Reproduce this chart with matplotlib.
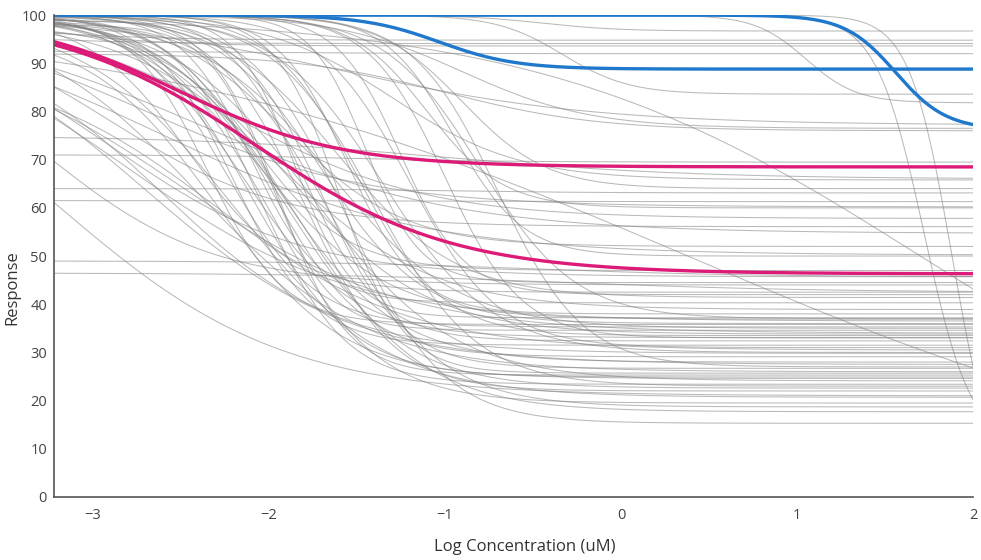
import numpy as np
import matplotlib
matplotlib.use("Agg")
from matplotlib import pyplot as plt

plt.rcParams['font.family'] = ['Open Sans', 'DejaVu Sans']

# Fitted 4-parameter logistic curves:
# each entry is (top, bottom, log EC50, hill slope)

# flat / nearly flat responders
flat_curves = [
    (100, 96.7, -0.45, 2.0),
    (99, 94.8, -3.5, 1.0),
    (98, 94.1, -3.8, 1.0),
    (100, 93.6, -3.3, 1.2),
    (92.5, 92.0, -2.0, 1.0),
    (75, 66.0, -1.0, 0.6),
    (71, 69.5, -1.5, 1.0),
    (64, 63.1, -1.0, 1.0),
    (61.5, 61.3, -1.0, 1.0),
    (49, 45.7, -0.5, 0.7),
    (46.5, 42.5, -0.3, 0.6),
]

# main bundle, EC50 around -2
bundle_curves = [
    (100, 15.3, -1.55, 1.6),
    (100, 17.7, -1.85, 1.2),
    (99, 18.7, -1.65, 1.4),
    (100, 19.5, -2.0, 1.4),
    (100, 20.7, -2.2, 1.0),
    (100, 21.0, -3.2, 0.68),
    (100, 22.0, -1.8, 1.7),
    (98, 22.6, -1.9, 1.3),
    (100, 23.4, -2.05, 1.8),
    (100, 24.1, -1.75, 1.1),
    (97, 24.6, -2.3, 1.2),
    (100, 24.9, -2.1, 1.5),
    (100, 25.3, -1.95, 2.2),
    (100, 25.7, -1.6, 2.4),
    (100, 26.0, -2.4, 0.9),
    (99, 26.7, -1.7, 1.9),
    (100, 28.0, -1.95, 1.3),
    (100, 29.1, -2.0, 1.6),
    (96, 29.8, -2.6, 0.9),
    (100, 31.5, -2.2, 1.9),
    (100, 32.4, -1.8, 2.0),
    (100, 33.1, -2.15, 1.4),
    (100, 33.5, -1.5, 1.8),
    (100, 33.8, -1.9, 1.1),
    (98, 34.6, -2.0, 2.5),
    (99, 35.0, -1.65, 1.2),
    (100, 35.3, -2.25, 1.7),
    (100, 35.8, -2.35, 2.0),
    (100, 36.0, -1.7, 1.5),
    (100, 36.9, -2.05, 1.2),
    (100, 37.2, -1.85, 2.6),
    (99, 38.9, -1.95, 1.0),
    (100, 40.3, -2.1, 2.2),
    (100, 41.4, -1.6, 1.3),
    (100, 42.5, -2.45, 1.5),
    (100, 47.0, -2.1, 1.6),
    (100, 52.0, -1.9, 1.3),
]

# shallow curves that already sit low at the left edge
shallow_curves = [
    (100, 45.7, -2.9, 0.8),
    (100, 36.5, -2.8, 0.7),
    (100, 27.5, -2.7, 0.75),
    (95, 34.0, -2.5, 0.7),
    (100, 50.2, -2.6, 0.6),
    (100, 44.0, -3.3, 0.9),
    (90, 30.5, -2.3, 0.8),
    (100, 56.1, -2.9, 0.9),
    (100, 60.2, -2.7, 0.7),
    (100, 54.7, -2.4, 0.6),
    (100, 57.8, -2.2, 0.8),
]

# curves with EC50 in the middle of the range
mid_curves = [
    (100, 65.8, -1.3, 1.2),
    (100, 64.0, -0.9, 1.8),
    (100, 60.0, -1.1, 2.0),
    (100, 50.0, -0.95, 2.2),
    (100, 44.5, -1.45, 2.8),
    (100, 42.0, -1.25, 2.4),
    (100, 38.0, -1.55, 2.2),
    (100, 37.0, -0.8, 1.6),
    (100, 33.0, -1.0, 2.0),
    (100, 31.0, -1.2, 1.7),
    (100, 30.0, -1.35, 1.4),
    (100, 27.0, -0.7, 1.8),
    (100, 23.0, -1.4, 1.5),
    (100, 77.2, -1.6, 0.6),
    (100, 76.5, -0.9, 1.2),
    (92, 76.0, -1.0, 1.0),
]

# late / odd curves on the right
late_curves = [
    (100, 10.0, 1.72, 3.2),
    (100, 0.0, 1.88, 3.6),
    (100, 81.8, 1.05, 3.0),
    (100, 83.6, -0.33, 2.3),
    (100, 0.0, 1.7, 0.4),
    (100, 0.0, 0.38, 0.27),
]

# highlighted curves
pink_curves = [
    (100, 68.5, -2.51, 0.95),
    (100, 46.3, -2.08, 0.78),
]
blue_curves = [
    (100, 88.8, -1.03, 2.0),
    (100, 76.2, 1.56, 3.0),
]


def logistic(x, top, bottom, ec50, hill):
    return bottom + (top - bottom) / (1 + 10 ** ((x - ec50) * hill))


x_min, x_max = -3.22, 2
x = np.linspace(x_min, x_max, 500)

fig = plt.figure(figsize=(9.81, 5.6), dpi=100)
ax = fig.add_axes([0.055, 0.1125, 0.937, 0.8605])

grey = flat_curves + bundle_curves + shallow_curves + mid_curves + late_curves
for top, bottom, ec50, hill in grey:
    ax.plot(x, logistic(x, top, bottom, ec50, hill), color='#808080',
            lw=0.75, alpha=0.55)

for top, bottom, ec50, hill in pink_curves:
    ax.plot(x, logistic(x, top, bottom, ec50, hill), color='#dc1a78', lw=2.4)
for top, bottom, ec50, hill in blue_curves:
    ax.plot(x, logistic(x, top, bottom, ec50, hill), color='#1f78cc', lw=2.4)

ax.set_xlim(x_min, x_max)
ax.set_ylim(0, 100)
ax.set_xticks([-3, -2, -1, 0, 1, 2])
ax.set_yticks(range(0, 101, 10))
ax.set_xticklabels(['\u22123', '\u22122', '\u22121', '0', '1', '2'])

for side in ['top', 'right']:
    ax.spines[side].set_visible(False)
for side in ['left', 'bottom']:
    ax.spines[side].set_color('#555555')
    ax.spines[side].set_linewidth(1.2)

ax.tick_params(axis='both', length=0, labelsize=10.5, colors='#444444')
ax.tick_params(axis='x', pad=8)
ax.tick_params(axis='y', pad=5)

# axis titles placed in figure coordinates
fig.text(0.535, 0.023, 'Log Concentration (uM)', fontsize=12, color='#333333',
         ha='center', va='center')
fig.text(0.013, 0.487, 'Response', fontsize=12, color='#333333',
         ha='center', va='center', rotation=90)

fig.savefig('out.png', dpi=100)
